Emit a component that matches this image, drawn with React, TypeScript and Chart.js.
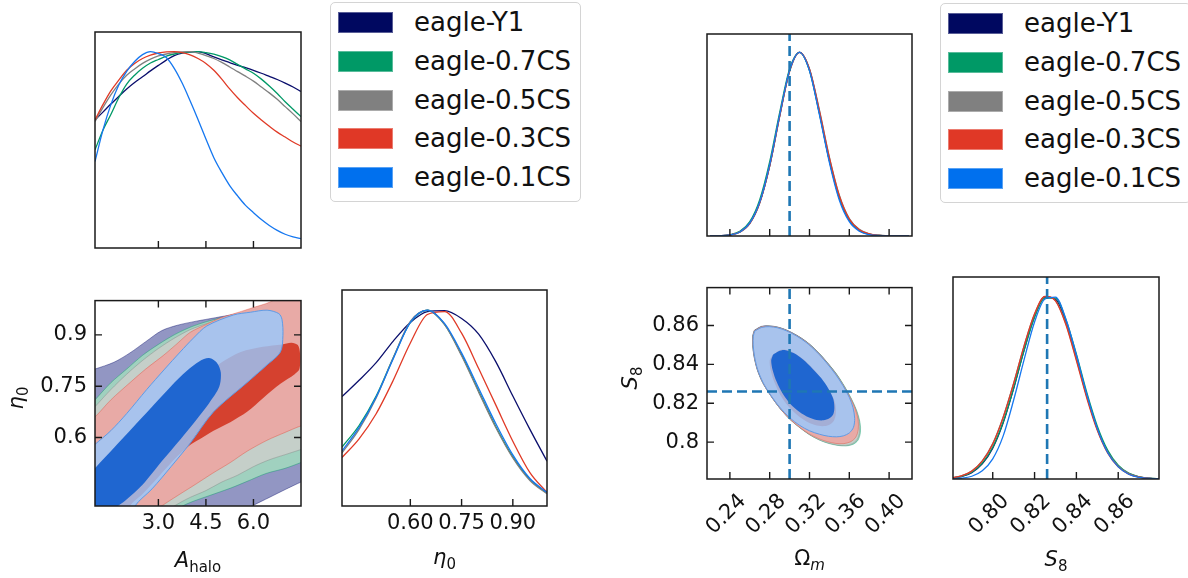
import React, { useEffect, useRef } from 'react';
import { Chart, registerables } from 'chart.js';

Chart.register(...registerables);

const FONT = "'DejaVu Sans', 'Liberation Sans', sans-serif";
Chart.defaults.font.family = FONT;

type Pt = [number, number];

// ---------------- series ----------------
const seriesNames = ['eagle-Y1', 'eagle-0.7CS', 'eagle-0.5CS', 'eagle-0.3CS', 'eagle-0.1CS'];
const lineColors = ['#0a0e6c', '#009966', '#808080', '#e03a26', '#1577f0'];
const patchColors = ['#000860', '#009966', '#808080', '#e03826', '#0070ee'];

// ---------------- ranges ----------------
const aHaloRange: Pt = [1.0, 7.5];
const eta0Range: Pt = [0.4, 1.0];
const omRange: Pt = [0.217, 0.423];
const s8Range: Pt = [0.781, 0.8795];
const pdfRange: Pt = [0, 1.1];

// ---------------- ticks ----------------
const aHaloTicks = [3.0, 4.5, 6.0];
const aHaloTickLabels = ['3.0', '4.5', '6.0'];
const eta0YTicks = [0.6, 0.75, 0.9];
const eta0YTickLabels = ['0.6', '0.75', '0.9'];
const eta0XTicks = [0.6, 0.75, 0.9];
const eta0XTickLabels = ['0.60', '0.75', '0.90'];
const omTicks = [0.24, 0.28, 0.32, 0.36, 0.4];
const omTickLabels = ['0.24', '0.28', '0.32', '0.36', '0.40'];
const s8YTicks = [0.8, 0.82, 0.84, 0.86];
const s8YTickLabels = ['0.8', '0.82', '0.84', '0.86'];
const s8XTicks = [0.8, 0.82, 0.84, 0.86];
const s8XTickLabels = ['0.80', '0.82', '0.84', '0.86'];

// ---------------- fiducial values ----------------
const omTruth = 0.3;
const s8Truth = 0.826;

// ---------------- 1D marginals ----------------
const aHaloGrid = [1.0, 1.25, 1.5, 1.75, 2.0, 2.25, 2.5, 2.75, 3.0, 3.25, 3.5, 3.75, 4.0, 4.25, 4.5, 4.75, 5.0, 5.25, 5.5, 5.75, 6.0, 6.25, 6.5, 6.75, 7.0, 7.25, 7.5];
const aHaloPdfY1 = [0.652, 0.692, 0.733, 0.772, 0.81, 0.843, 0.872, 0.902, 0.93, 0.957, 0.98, 0.993, 0.998, 1.0, 0.99, 0.973, 0.958, 0.944, 0.93, 0.918, 0.905, 0.89, 0.874, 0.858, 0.84, 0.82, 0.797];
const aHaloPdf07 = [0.5, 0.6, 0.68, 0.765, 0.835, 0.88, 0.915, 0.942, 0.96, 0.977, 0.988, 0.995, 0.998, 1.0, 0.995, 0.987, 0.975, 0.958, 0.935, 0.912, 0.89, 0.86, 0.825, 0.787, 0.745, 0.707, 0.669];
const aHaloPdf05 = [0.644, 0.715, 0.78, 0.835, 0.88, 0.912, 0.94, 0.962, 0.978, 0.988, 0.995, 0.999, 1.0, 0.993, 0.98, 0.965, 0.945, 0.922, 0.898, 0.875, 0.85, 0.82, 0.79, 0.757, 0.72, 0.683, 0.644];
const aHaloPdf03 = [0.652, 0.73, 0.8, 0.855, 0.905, 0.94, 0.965, 0.982, 0.993, 0.999, 1.0, 0.995, 0.984, 0.965, 0.94, 0.905, 0.86, 0.81, 0.765, 0.725, 0.686, 0.652, 0.62, 0.59, 0.565, 0.54, 0.519];
const aHaloPdf01 = [0.44, 0.6, 0.73, 0.83, 0.9, 0.95, 0.985, 1.0, 0.99, 0.97, 0.915, 0.84, 0.75, 0.655, 0.555, 0.46, 0.385, 0.318, 0.265, 0.217, 0.18, 0.145, 0.115, 0.09, 0.07, 0.057, 0.048];

const eta0Grid = [0.4, 0.45, 0.5, 0.55, 0.6, 0.65, 0.7, 0.75, 0.8, 0.85, 0.9, 0.95, 1.0];
const eta0PdfY1 = [0.557, 0.64, 0.73, 0.84, 0.935, 0.99, 0.995, 0.955, 0.875, 0.735, 0.56, 0.39, 0.228];
const eta0Pdf07 = [0.3, 0.41, 0.56, 0.755, 0.935, 0.997, 0.925, 0.77, 0.585, 0.405, 0.25, 0.135, 0.065];
const eta0Pdf05 = [0.27, 0.39, 0.55, 0.755, 0.94, 0.997, 0.925, 0.765, 0.58, 0.4, 0.245, 0.13, 0.062];
const eta0Pdf03 = [0.247, 0.342, 0.47, 0.64, 0.83, 0.975, 0.99, 0.88, 0.7, 0.515, 0.33, 0.17, 0.069];
const eta0Pdf01 = [0.28, 0.4, 0.555, 0.75, 0.935, 0.998, 0.93, 0.78, 0.6, 0.42, 0.26, 0.14, 0.069];

const omGrid = [0.22, 0.23, 0.24, 0.25, 0.26, 0.27, 0.28, 0.29, 0.3, 0.31, 0.32, 0.33, 0.34, 0.35, 0.36, 0.37, 0.38, 0.39, 0.4, 0.41, 0.42];
const omPdfY1 = [0, 0.001, 0.006, 0.022, 0.07, 0.183, 0.384, 0.654, 0.9, 1.0, 0.905, 0.67, 0.41, 0.205, 0.085, 0.03, 0.009, 0.003, 0.001, 0, 0];
const omPdf07 = [0, 0.001, 0.007, 0.025, 0.078, 0.198, 0.405, 0.672, 0.91, 1.0, 0.9, 0.665, 0.41, 0.208, 0.088, 0.032, 0.01, 0.003, 0.001, 0, 0];
const omPdf05 = [0, 0.001, 0.006, 0.021, 0.068, 0.18, 0.38, 0.65, 0.895, 1.0, 0.91, 0.685, 0.43, 0.222, 0.095, 0.036, 0.012, 0.004, 0.001, 0, 0];
const omPdf03 = [0, 0.001, 0.006, 0.022, 0.069, 0.181, 0.382, 0.652, 0.898, 1.0, 0.908, 0.68, 0.425, 0.218, 0.092, 0.034, 0.011, 0.003, 0.001, 0, 0];
const omPdf01 = [0, 0.001, 0.006, 0.022, 0.071, 0.185, 0.388, 0.658, 0.902, 1.0, 0.9, 0.66, 0.4, 0.195, 0.078, 0.026, 0.007, 0.002, 0, 0, 0];

const s8Grid = [0.78, 0.785, 0.79, 0.795, 0.8, 0.805, 0.81, 0.815, 0.82, 0.825, 0.83, 0.835, 0.84, 0.845, 0.85, 0.855, 0.86, 0.865, 0.87, 0.875, 0.88];
const s8PdfY1 = [0.0045, 0.013, 0.035, 0.082, 0.168, 0.306, 0.493, 0.703, 0.887, 0.99, 0.978, 0.855, 0.662, 0.453, 0.274, 0.147, 0.07, 0.029, 0.011, 0.0036, 0.001];
const s8Pdf07 = [0.005, 0.014, 0.037, 0.086, 0.173, 0.31, 0.495, 0.7, 0.88, 0.985, 0.985, 0.868, 0.68, 0.47, 0.288, 0.156, 0.075, 0.032, 0.012, 0.004, 0.001];
const s8Pdf05 = [0.006, 0.017, 0.044, 0.099, 0.193, 0.338, 0.522, 0.725, 0.897, 0.993, 0.972, 0.845, 0.652, 0.447, 0.27, 0.145, 0.07, 0.03, 0.011, 0.004, 0.001];
const s8Pdf03 = [0.006, 0.017, 0.043, 0.097, 0.19, 0.335, 0.52, 0.725, 0.9, 0.995, 0.97, 0.84, 0.645, 0.44, 0.265, 0.14, 0.066, 0.027, 0.01, 0.003, 0.001];
const s8Pdf01 = [0.001, 0.004, 0.015, 0.045, 0.11, 0.235, 0.43, 0.65, 0.855, 0.98, 0.99, 0.87, 0.675, 0.46, 0.275, 0.143, 0.066, 0.026, 0.009, 0.003, 0.001];

// ---------------- 2D contours: (A_halo, eta0) ----------------
const aEtaY1Outer: Pt[] = [[0.5, 0.35], [0.5, 0.785], [1.0, 0.8], [1.6, 0.82], [2.1, 0.847], [2.6, 0.88], [3.1, 0.912], [3.6, 0.928], [4.2, 0.94], [4.8, 0.95], [5.4, 0.96], [5.9, 0.968], [6.4, 0.985], [7.0, 0.993], [7.5, 0.996], [8.0, 0.998], [8.0, 0.49], [7.5, 0.47], [7.0, 0.448], [6.5, 0.425], [6.0, 0.402], [5.6, 0.38], [5.3, 0.35], [0.5, 0.35]];
const aEta07Outer: Pt[] = [[0.5, 0.35], [0.5, 0.66], [1.0, 0.71], [1.5, 0.76], [2.0, 0.8], [2.5, 0.84], [3.0, 0.872], [3.5, 0.9], [4.0, 0.922], [4.5, 0.938], [5.0, 0.95], [5.5, 0.958], [6.0, 0.965], [6.5, 0.97], [7.0, 0.973], [7.5, 0.975], [8.0, 0.976], [8.0, 0.545], [7.5, 0.527], [7.0, 0.51], [6.4, 0.495], [5.8, 0.472], [5.3, 0.453], [4.6, 0.43], [4.0, 0.41], [3.6, 0.39], [3.3, 0.35], [0.5, 0.35]];
const aEta05Outer: Pt[] = [[0.5, 0.35], [0.5, 0.64], [1.0, 0.69], [1.5, 0.74], [2.0, 0.785], [2.5, 0.825], [3.0, 0.86], [3.5, 0.89], [4.0, 0.915], [4.5, 0.932], [5.0, 0.945], [5.5, 0.953], [6.0, 0.96], [6.5, 0.965], [7.0, 0.968], [7.5, 0.97], [8.0, 0.97], [8.0, 0.58], [7.5, 0.565], [7.0, 0.55], [6.5, 0.535], [6.0, 0.515], [5.5, 0.49], [5.0, 0.47], [4.5, 0.445], [4.0, 0.425], [3.5, 0.4], [3.2, 0.38], [2.9, 0.35], [0.5, 0.35]];
const aEta03Outer: Pt[] = [[0.5, 0.35], [0.5, 0.62], [1.0, 0.66], [1.5, 0.71], [2.1, 0.76], [2.6, 0.8], [3.16, 0.84], [3.6, 0.875], [4.0, 0.907], [4.5, 0.93], [4.95, 0.949], [5.5, 0.965], [6.0, 0.98], [6.5, 0.995], [7.0, 1.02], [8.0, 1.05], [8.0, 0.645], [7.5, 0.634], [7.0, 0.615], [6.43, 0.592], [5.8, 0.56], [5.27, 0.527], [4.7, 0.495], [4.2, 0.465], [3.6, 0.43], [3.1, 0.4], [2.8, 0.38], [2.5, 0.35], [0.5, 0.35]];
const aEta03Inner: Pt[] = [[1.4, 0.35], [1.8, 0.46], [2.5, 0.56], [3.2, 0.65], [4.0, 0.74], [4.6, 0.79], [5.0, 0.82], [5.6, 0.85], [6.3, 0.865], [6.9, 0.872], [7.2, 0.877], [7.4, 0.87], [7.47, 0.845], [7.45, 0.8], [7.3, 0.785], [6.85, 0.757], [6.3, 0.715], [5.8, 0.675], [5.27, 0.645], [4.74, 0.62], [4.3, 0.595], [4.0, 0.578], [3.6, 0.545], [3.0, 0.485], [2.5, 0.435], [2.1, 0.4], [1.9, 0.35], [1.4, 0.35]];
const aEta01Outer: Pt[] = [[0.5, 0.35], [2.1, 0.35], [2.26, 0.4], [2.8, 0.45], [3.4, 0.515], [4.0, 0.583], [4.74, 0.675], [5.79, 0.76], [6.4, 0.81], [6.85, 0.85], [6.93, 0.898], [6.9, 0.945], [6.8, 0.962], [6.43, 0.972], [5.9, 0.966], [5.37, 0.958], [4.53, 0.926], [4.1, 0.89], [3.69, 0.85], [3.2, 0.8], [2.63, 0.74], [2.0, 0.67], [1.5, 0.62], [1.0, 0.58], [0.5, 0.54], [0.5, 0.35]];
const aEta01Inner: Pt[] = [[0.5, 0.35], [0.5, 0.45], [1.0, 0.51], [1.6, 0.57], [2.2, 0.63], [2.8, 0.69], [3.4, 0.75], [3.9, 0.795], [4.3, 0.823], [4.6, 0.832], [4.85, 0.818], [4.97, 0.79], [4.92, 0.748], [4.6, 0.7], [4.2, 0.652], [3.7, 0.595], [3.1, 0.53], [2.5, 0.462], [1.95, 0.415], [1.6, 0.39], [1.3, 0.35], [0.5, 0.35]];

// ---------------- 2D contours: (Omega_m, S8) ----------------
const omS8Y1Outer: Pt[] = [[0.2646, 0.8576], [0.272, 0.8596], [0.28, 0.8598], [0.288, 0.8592], [0.2968, 0.8577], [0.3072, 0.855], [0.3172, 0.8516], [0.3275, 0.8469], [0.3376, 0.8411], [0.347, 0.835], [0.355, 0.8285], [0.3617, 0.8222], [0.3665, 0.8165], [0.3694, 0.811], [0.3697, 0.806], [0.3674, 0.802], [0.3625, 0.7996], [0.3555, 0.7987], [0.3474, 0.7989], [0.3386, 0.7998], [0.3293, 0.8015], [0.3193, 0.8042], [0.3093, 0.8079], [0.2995, 0.8122], [0.2896, 0.8178], [0.2806, 0.8242], [0.2727, 0.8308], [0.2674, 0.8374], [0.2642, 0.8442], [0.2628, 0.8503], [0.263, 0.8549], [0.2646, 0.8576]];
const omS8Y07Outer: Pt[] = [[0.2647, 0.8574], [0.272, 0.8594], [0.28, 0.8597], [0.288, 0.8591], [0.2968, 0.8576], [0.3072, 0.8549], [0.3173, 0.8515], [0.3277, 0.8468], [0.3378, 0.841], [0.3474, 0.8349], [0.3557, 0.8283], [0.3626, 0.8218], [0.3678, 0.8158], [0.3708, 0.81], [0.3712, 0.805], [0.3688, 0.801], [0.3637, 0.7988], [0.3565, 0.798], [0.3482, 0.7983], [0.3392, 0.7993], [0.3297, 0.8011], [0.3196, 0.8039], [0.3095, 0.8077], [0.2996, 0.8121], [0.2898, 0.8177], [0.2808, 0.8241], [0.2729, 0.8307], [0.2676, 0.8373], [0.2644, 0.8441], [0.263, 0.8502], [0.2632, 0.8548], [0.2647, 0.8574]];
const omS8Y05Outer: Pt[] = [[0.2646, 0.8574], [0.272, 0.8594], [0.28, 0.8597], [0.288, 0.8591], [0.2968, 0.8576], [0.3072, 0.8549], [0.3172, 0.8515], [0.3275, 0.8468], [0.3376, 0.841], [0.347, 0.8349], [0.3552, 0.8284], [0.362, 0.822], [0.367, 0.8162], [0.37, 0.8105], [0.3703, 0.8055], [0.368, 0.8015], [0.363, 0.7992], [0.356, 0.7983], [0.3478, 0.7985], [0.339, 0.7995], [0.3296, 0.8012], [0.3195, 0.804], [0.3095, 0.8077], [0.2996, 0.812], [0.2898, 0.8177], [0.2808, 0.8241], [0.2729, 0.8307], [0.2676, 0.8373], [0.2644, 0.8441], [0.263, 0.8502], [0.2632, 0.8548], [0.2646, 0.8574]];
const omS8Y03Outer: Pt[] = [[0.2647, 0.8573], [0.272, 0.8593], [0.28, 0.8596], [0.288, 0.859], [0.2967, 0.8575], [0.307, 0.8548], [0.317, 0.8514], [0.3272, 0.8467], [0.3372, 0.841], [0.3465, 0.835], [0.3545, 0.8287], [0.3612, 0.8225], [0.366, 0.817], [0.3688, 0.8115], [0.369, 0.8065], [0.3665, 0.8025], [0.3615, 0.8002], [0.3545, 0.7992], [0.3465, 0.7993], [0.338, 0.8002], [0.329, 0.8018], [0.319, 0.8044], [0.3092, 0.808], [0.2995, 0.8122], [0.2898, 0.8178], [0.2808, 0.8241], [0.273, 0.8307], [0.2677, 0.8373], [0.2645, 0.8441], [0.2631, 0.8501], [0.2633, 0.8547], [0.2647, 0.8573]];
const omS8Y03Inner: Pt[] = [[0.2825, 0.8445], [0.289, 0.847], [0.295, 0.8476], [0.304, 0.846], [0.314, 0.8425], [0.324, 0.8375], [0.333, 0.832], [0.3405, 0.8262], [0.3455, 0.8205], [0.3465, 0.815], [0.3445, 0.811], [0.3395, 0.8088], [0.333, 0.8082], [0.3255, 0.8088], [0.317, 0.8106], [0.308, 0.8138], [0.299, 0.8183], [0.291, 0.824], [0.285, 0.8305], [0.281, 0.837], [0.28, 0.842], [0.2825, 0.8445]];
const omS8Y01Outer: Pt[] = [[0.2649, 0.8571], [0.272, 0.859], [0.28, 0.8594], [0.288, 0.8588], [0.2967, 0.8573], [0.307, 0.8546], [0.3168, 0.8512], [0.327, 0.8465], [0.3369, 0.8409], [0.346, 0.835], [0.3537, 0.829], [0.36, 0.823], [0.3637, 0.8178], [0.3654, 0.8122], [0.3642, 0.8076], [0.3602, 0.8048], [0.354, 0.8032], [0.347, 0.8027], [0.339, 0.803], [0.3302, 0.804], [0.32, 0.8058], [0.3101, 0.8086], [0.3, 0.8126], [0.29, 0.818], [0.281, 0.8242], [0.2733, 0.8307], [0.268, 0.8372], [0.2648, 0.844], [0.2634, 0.85], [0.2636, 0.8545], [0.2649, 0.8571]];
const omS8Y01Inner: Pt[] = [[0.2833, 0.845], [0.289, 0.8468], [0.295, 0.8474], [0.304, 0.8458], [0.3135, 0.8425], [0.323, 0.8378], [0.3319, 0.8328], [0.339, 0.8275], [0.3437, 0.8225], [0.345, 0.818], [0.344, 0.8145], [0.34, 0.8122], [0.334, 0.8112], [0.327, 0.8114], [0.319, 0.8128], [0.31, 0.8155], [0.301, 0.8195], [0.293, 0.825], [0.287, 0.831], [0.283, 0.837], [0.2815, 0.842], [0.2833, 0.845]];

// ---------------- styles for contour layers ----------------
const fillY1Outer = '#9296c3';
const fill07Outer = '#a0d1bf';
const fill05Outer = '#c5cfc9';
const fill03Outer = '#e8aaa6';
const fill03Inner = '#d5412f';
const fill01Outer = 'rgba(151,201,255,0.8)';
const fill01Inner = '#1f66d0';
const truthColor = '#1f77b4';

const TICK_SIZE = 21;
const LABEL_SIZE = 21;
const SUB_SIZE = 15;

// ---------------- helpers ----------------
function curve(grid: number[], ys: number[], color: string) {
  return {
    data: grid.map((x, i) => ({ x, y: ys[i] })),
    showLine: true,
    borderColor: color,
    borderWidth: 1.3,
    pointRadius: 0,
    fill: false,
    cubicInterpolationMode: 'monotone',
    clip: 0,
  };
}

function region(pts: Pt[], fillColor: string, lineColor: string, lw = 0.9) {
  return {
    data: pts.map(([x, y]) => ({ x, y })),
    showLine: true,
    fill: 'shape',
    backgroundColor: fillColor,
    borderColor: lineColor,
    borderWidth: lw,
    pointRadius: 0,
    tension: 0.3,
    capBezierPoints: false,
    clip: 0,
  };
}

function dashed(p0: Pt, p1: Pt) {
  return {
    data: [{ x: p0[0], y: p0[1] }, { x: p1[0], y: p1[1] }],
    showLine: true,
    borderColor: truthColor,
    borderWidth: 2.6,
    borderDash: [10, 5],
    pointRadius: 0,
    fill: false,
    clip: 0,
  };
}

type MathPart = { t: string; it?: boolean; sub?: boolean };
type MathLabel = { x: number; y: number; rot?: boolean; parts: MathPart[] };

const panelDecor = {
  id: 'panelDecor',
  afterDatasetsDraw(chart: any, _args: any, opts: any) {
    const { ctx, chartArea: a } = chart;
    const xs = chart.scales.x;
    const ys = chart.scales.y;
    const len = 7;
    ctx.save();
    ctx.strokeStyle = '#1a1a1a';
    ctx.lineWidth = 1.4;
    ctx.beginPath();
    const sides: string[] = opts.sides || [];
    for (const side of sides) {
      if (side === 'bottom' || side === 'top') {
        for (const t of xs.ticks) {
          const px = xs.getPixelForValue(t.value);
          if (side === 'bottom') { ctx.moveTo(px, a.bottom); ctx.lineTo(px, a.bottom - len); }
          else { ctx.moveTo(px, a.top); ctx.lineTo(px, a.top + len); }
        }
      } else {
        for (const t of ys.ticks) {
          const py = ys.getPixelForValue(t.value);
          if (side === 'left') { ctx.moveTo(a.left, py); ctx.lineTo(a.left + len, py); }
          else { ctx.moveTo(a.right, py); ctx.lineTo(a.right - len, py); }
        }
      }
    }
    ctx.stroke();
    ctx.lineWidth = 1.5;
    ctx.strokeRect(a.left, a.top, a.right - a.left, a.bottom - a.top);
    ctx.restore();
  },
};

const mathLabels = {
  id: 'mathLabels',
  afterDraw(chart: any, _args: any, opts: any) {
    const ctx = chart.ctx;
    const [ox, oy] = opts.offset;
    for (const lab of (opts.labels || []) as MathLabel[]) {
      ctx.save();
      ctx.translate(lab.x - ox, lab.y - oy);
      if (lab.rot) ctx.rotate(-Math.PI / 2);
      ctx.textAlign = 'left';
      ctx.textBaseline = 'alphabetic';
      ctx.fillStyle = '#111';
      let total = 0;
      const pieces = lab.parts.map((p) => {
        const size = p.sub ? SUB_SIZE : LABEL_SIZE;
        const font = `${p.it ? 'italic ' : ''}${size}px ${FONT}`;
        ctx.font = font;
        const w = ctx.measureText(p.t).width;
        total += w;
        return { ...p, font, w };
      });
      let x = -total / 2;
      for (const p of pieces) {
        ctx.font = p.font;
        ctx.fillText(p.t, x, p.sub ? 4.5 : 0);
        x += p.w;
      }
      ctx.restore();
    }
  },
};

interface PanelSpec {
  box: [number, number, number, number];
  margin: [number, number, number, number];
  xRange: Pt;
  yRange: Pt;
  xTicks: number[];
  xLabels: string[] | null;
  yTicks: number[];
  yLabels: string[] | null;
  xRot?: number;
  xLabelOffset?: number;
  xPad?: number;
  tickSides: string[];
  datasets: any[];
  labels: MathLabel[];
}

function axisCfg(dir: 'x' | 'y', range: Pt, ticks: number[], labels: string[] | null, size: number, rot = 0, labelOffset = 0, pad = 5) {
  return {
    type: 'linear',
    position: dir === 'x' ? 'bottom' : 'left',
    min: range[0],
    max: range[1],
    afterBuildTicks: (s: any) => { s.ticks = ticks.map((v) => ({ value: v })); },
    afterFit: (s: any) => { if (dir === 'x') s.height = size; else s.width = size; },
    grid: { display: false, drawTicks: false },
    border: { display: false },
    ticks: {
      display: !!labels,
      autoSkip: false,
      color: '#111',
      font: { family: FONT, size: TICK_SIZE },
      padding: pad,
      minRotation: rot,
      maxRotation: rot,
      labelOffset,
      callback: (_v: any, i: number) => (labels ? labels[i] : ''),
    },
  };
}

function Panel({ spec }: { spec: PanelSpec }) {
  const ref = useRef<HTMLCanvasElement>(null);
  const [l, t, r, b] = spec.box;
  const [mL, mT, mR, mB] = spec.margin;
  const w = r - l + mL + mR;
  const h = b - t + mT + mB;
  useEffect(() => {
    const n = spec.datasets.length;
    const chart = new Chart(ref.current as HTMLCanvasElement, {
      type: 'scatter',
      data: { datasets: spec.datasets.map((d, i) => ({ ...d, order: n - i })) },
      options: {
        animation: false,
        responsive: false,
        devicePixelRatio: 1,
        events: [],
        layout: { padding: { left: 0, top: mT, right: mR, bottom: 0 } },
        plugins: {
          legend: { display: false },
          tooltip: { enabled: false },
          panelDecor: { sides: spec.tickSides },
          mathLabels: { labels: spec.labels, offset: [l - mL, t - mT] },
        } as any,
        scales: {
          x: axisCfg('x', spec.xRange, spec.xTicks, spec.xLabels, mB, spec.xRot || 0, spec.xLabelOffset || 0, spec.xPad ?? 5),
          y: axisCfg('y', spec.yRange, spec.yTicks, spec.yLabels, mL, 0, 0, 8),
        } as any,
      },
      plugins: [panelDecor, mathLabels],
    } as any);
    return () => chart.destroy();
  }, []);
  return (
    <canvas
      ref={ref}
      width={w}
      height={h}
      style={{ position: 'absolute', left: l - mL, top: t - mT, width: w, height: h }}
    />
  );
}

function Legend({ left, top }: { left: number; top: number }) {
  return (
    <div
      style={{
        position: 'absolute', left, top, width: 251, height: 200, boxSizing: 'border-box',
        border: '1.5px solid #d4d4d4', borderRadius: 5, background: '#fff', fontFamily: FONT,
      }}
    >
      {seriesNames.map((name, i) => (
        <div key={name} style={{ position: 'absolute', left: 7, top: 9 + i * 38.8, height: 21, display: 'flex', alignItems: 'center', whiteSpace: 'nowrap' }}>
          <span style={{ display: 'inline-block', width: 55, height: 21, background: patchColors[i], boxSizing: 'border-box', border: '1px solid rgba(255,255,255,0.35)' }} />
          <span style={{ marginLeft: 21, fontSize: 26, lineHeight: '21px', color: '#111' }}>{name}</span>
        </div>
      ))}
    </div>
  );
}

const aHaloCurves = [aHaloPdfY1, aHaloPdf07, aHaloPdf05, aHaloPdf03, aHaloPdf01];
const eta0Curves = [eta0PdfY1, eta0Pdf07, eta0Pdf05, eta0Pdf03, eta0Pdf01];
const omCurves = [omPdfY1, omPdf07, omPdf05, omPdf03, omPdf01];
const s8Curves = [s8PdfY1, s8Pdf07, s8Pdf05, s8Pdf03, s8Pdf01];

const panels: PanelSpec[] = [
  {
    box: [95, 32, 301, 248], margin: [10, 10, 20, 10],
    xRange: aHaloRange, yRange: pdfRange, xTicks: aHaloTicks, xLabels: null, yTicks: [], yLabels: null,
    tickSides: ['bottom'],
    datasets: aHaloCurves.map((ys, i) => curve(aHaloGrid, ys, lineColors[i])),
    labels: [],
  },
  {
    box: [95, 290, 301, 506], margin: [95, 10, 20, 72],
    xRange: aHaloRange, yRange: eta0Range, xTicks: aHaloTicks, xLabels: aHaloTickLabels, yTicks: eta0YTicks, yLabels: eta0YTickLabels,
    tickSides: ['bottom', 'top', 'left', 'right'],
    datasets: [
      region(aEtaY1Outer, fillY1Outer, 'rgba(0,8,102,0.45)'),
      region(aEta07Outer, fill07Outer, 'rgba(0,153,102,0.45)'),
      region(aEta05Outer, fill05Outer, 'rgba(128,128,128,0.45)'),
      region(aEta03Outer, fill03Outer, 'rgba(224,58,38,0.4)'),
      region(aEta03Inner, fill03Inner, 'rgba(213,65,47,0)', 0),
      region(aEta01Outer, fill01Outer, '#5e9be6', 1),
      region(aEta01Inner, fill01Inner, 'rgba(31,102,208,0)', 0),
    ],
    labels: [
      { x: 198, y: 567, parts: [{ t: 'A', it: true }, { t: 'halo', sub: true }] },
      { x: 23, y: 398, rot: true, parts: [{ t: 'η', it: true }, { t: '0', sub: true }] },
    ],
  },
  {
    box: [342, 290, 547, 506], margin: [10, 10, 20, 72],
    xRange: eta0Range, yRange: pdfRange, xTicks: eta0XTicks, xLabels: eta0XTickLabels, yTicks: [], yLabels: null,
    tickSides: ['bottom'],
    datasets: eta0Curves.map((ys, i) => curve(eta0Grid, ys, lineColors[i])),
    labels: [{ x: 444.5, y: 564, parts: [{ t: 'η', it: true }, { t: '0', sub: true }] }],
  },
  {
    box: [707, 34, 912, 236], margin: [10, 10, 20, 10],
    xRange: omRange, yRange: pdfRange, xTicks: omTicks, xLabels: null, yTicks: [], yLabels: null,
    tickSides: ['bottom'],
    datasets: [
      ...omCurves.map((ys, i) => curve(omGrid, ys, lineColors[i])),
      dashed([omTruth, pdfRange[0]], [omTruth, pdfRange[1]]),
    ],
    labels: [],
  },
  {
    box: [707, 277, 912, 479], margin: [100, 10, 20, 99],
    xRange: omRange, yRange: s8Range, xTicks: omTicks, xLabels: omTickLabels, yTicks: s8YTicks, yLabels: s8YTickLabels,
    xRot: 45, xLabelOffset: 13, xPad: 10,
    tickSides: ['bottom', 'top', 'left', 'right'],
    datasets: [
      region(omS8Y1Outer, fillY1Outer, 'rgba(0,8,102,0.4)'),
      region(omS8Y07Outer, fill07Outer, 'rgba(0,153,102,0.4)'),
      region(omS8Y05Outer, fill05Outer, 'rgba(128,128,128,0.4)'),
      region(omS8Y03Outer, fill03Outer, 'rgba(224,58,38,0.4)'),
      region(omS8Y03Inner, fill03Inner, 'rgba(213,65,47,0)', 0),
      region(omS8Y01Outer, fill01Outer, '#5e9be6', 1),
      region(omS8Y01Inner, fill01Inner, 'rgba(31,102,208,0)', 0),
      dashed([omTruth, s8Range[0]], [omTruth, s8Range[1]]),
      dashed([omRange[0], s8Truth], [omRange[1], s8Truth]),
    ],
    labels: [
      { x: 809.5, y: 565, parts: [{ t: 'Ω' }, { t: 'm', it: true, sub: true }] },
      { x: 637, y: 378, rot: true, parts: [{ t: 'S', it: true }, { t: '8', sub: true }] },
    ],
  },
  {
    box: [953, 277, 1159, 479], margin: [10, 10, 20, 99],
    xRange: s8Range, yRange: pdfRange, xTicks: s8XTicks, xLabels: s8XTickLabels, yTicks: [], yLabels: null,
    xRot: 45, xLabelOffset: 13, xPad: 10,
    tickSides: ['bottom'],
    datasets: [
      ...s8Curves.map((ys, i) => curve(s8Grid, ys, lineColors[i])),
      dashed([s8Truth, pdfRange[0]], [s8Truth, pdfRange[1]]),
    ],
    labels: [{ x: 1056, y: 566, parts: [{ t: 'S', it: true }, { t: '8', sub: true }] }],
  },
];

export default function App() {
  return (
    <div style={{ position: 'absolute', left: 0, top: 0, width: 1188, height: 578, overflow: 'hidden', background: '#fff' }}>
      {panels.map((p, i) => <Panel key={i} spec={p} />)}
      <Legend left={330} top={2} />
      <Legend left={940} top={3} />
    </div>
  );
}
